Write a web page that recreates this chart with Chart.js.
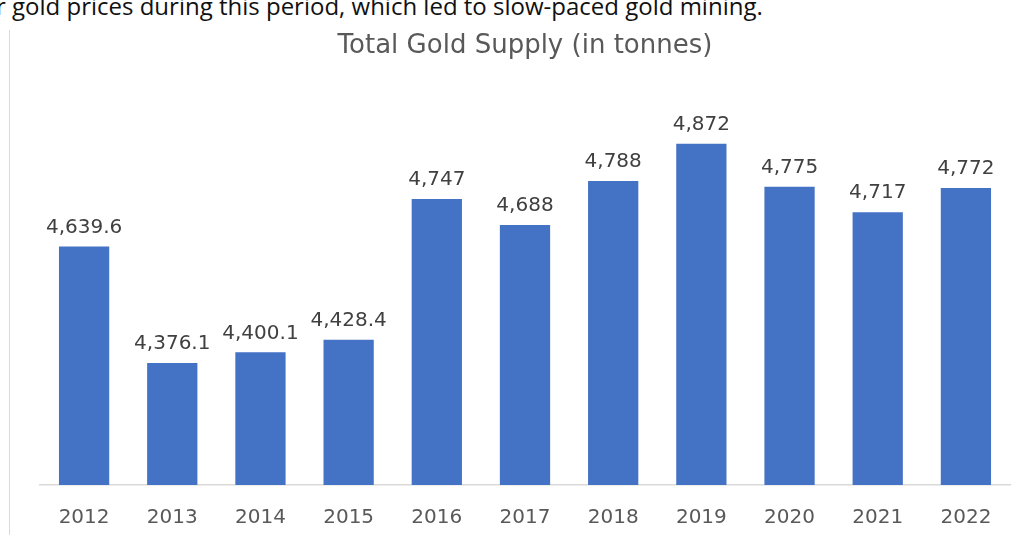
<!DOCTYPE html>
<html>
<head>
<meta charset="utf-8">
<script src="https://cdn.jsdelivr.net/npm/chart.js@4"></script>
<style>
  body { margin: 0; background: #fff; width: 1020px; height: 535px; overflow: hidden; position: relative; }
  #topText { position: absolute; left: -4px; top: -11px; font-family: "Open Sans", sans-serif; font-size: 24px; color: #111; white-space: nowrap; }
  #leftRule { position: absolute; left: 9px; top: 30px; width: 1px; height: 505px; background: #d9d9d9; }
  #wrap { position: absolute; left: 0; top: 0; width: 1020px; height: 555px; }
</style>
</head>
<body>
<div id="topText">r gold prices during this period, which led to slow-paced gold mining.</div>
<div id="leftRule"></div>
<div id="wrap"><canvas id="goldChart"></canvas></div>
<script>
const years = ['2012', '2013', '2014', '2015', '2016', '2017', '2018', '2019', '2020', '2021', '2022'];
const supply = [4639.6, 4376.1, 4400.1, 4428.4, 4747, 4688, 4788, 4872, 4775, 4717, 4772];
const supplyLabels = ['4,639.6', '4,376.1', '4,400.1', '4,428.4', '4,747', '4,688', '4,788', '4,872', '4,775', '4,717', '4,772'];

// draws the value above each bar
const valueLabels = {
    id: 'valueLabels',
    afterDatasetsDraw(chart) {
        const ctx = chart.ctx;
        const meta = chart.getDatasetMeta(0);
        ctx.save();
        ctx.font = '20px "DejaVu Sans", sans-serif';
        ctx.fillStyle = '#404040';
        ctx.textAlign = 'center';
        ctx.textBaseline = 'bottom';
        meta.data.forEach((bar, i) => {
            ctx.fillText(supplyLabels[i], bar.x, bar.y - 9);
        });
        ctx.restore();
    }
};

const ctx = document.getElementById('goldChart').getContext('2d');
new Chart(ctx, {
    type: 'bar',
    data: {
        labels: years,
        datasets: [{
            label: 'Total Gold Supply',
            data: supply,
            backgroundColor: '#4472C4',
            categoryPercentage: 1,
            barPercentage: 0.57
        }]
    },
    options: {
        responsive: true,
        maintainAspectRatio: false,
        animation: false,
        layout: { padding: { left: 40, right: 10, top: 31, bottom: 4 } },
        scales: {
            x: {
                grid: { display: false, drawTicks: false },
                border: { color: '#d9d9d9', width: 1.5 },
                ticks: { color: '#595959', font: { family: 'DejaVu Sans', size: 20 }, padding: 21 }
            },
            y: {
                display: false,
                min: 4100,
                max: 5000
            }
        },
        plugins: {
            legend: { display: false },
            tooltip: { enabled: false },
            title: {
                display: true,
                text: 'Total Gold Supply (in tonnes)',
                color: '#595959',
                font: { family: 'DejaVu Sans', size: 26, weight: 'normal' },
                padding: { top: 0, bottom: 25 }
            }
        }
    },
    plugins: [valueLabels]
});
</script>
</body>
</html>
